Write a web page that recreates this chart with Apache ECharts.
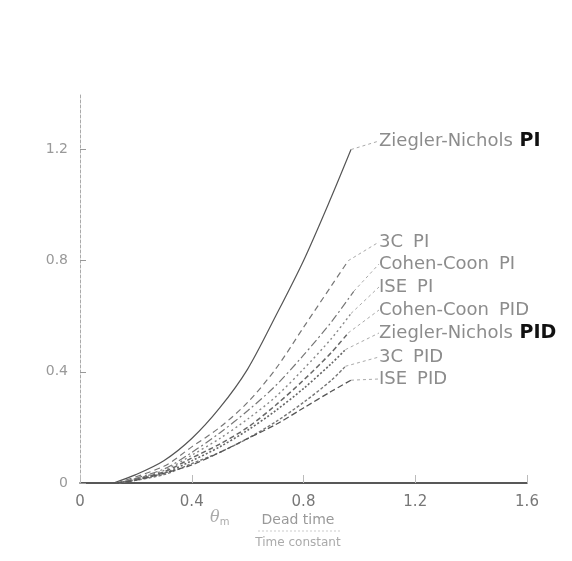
<!DOCTYPE html>
<html>
<head>
<meta charset="utf-8">
<script src="https://cdn.jsdelivr.net/npm/echarts@6/dist/echarts.min.js"></script>
<style>
  html, body { margin: 0; padding: 0; background: #fff; }
  #chart { width: 572px; height: 561px; }
</style>
</head>
<body>
<div id="chart"></div>
<script>
// Dead time / time constant ratio vs. controller gain for several tuning rules
const xTicks = [0, 0.4, 0.8, 1.2, 1.6];
const yTicks = [0, 0.4, 0.8, 1.2];

const znPI   = [[0.12, 0], [0.2, 0.03], [0.3, 0.08], [0.4, 0.16], [0.5, 0.27], [0.6, 0.41], [0.7, 0.6], [0.8, 0.8], [0.9, 1.03], [0.97, 1.2]];
const c3PI   = [[0.13, 0], [0.3, 0.06], [0.4, 0.13], [0.5, 0.2], [0.6, 0.29], [0.7, 0.41], [0.8, 0.56], [0.9, 0.71], [0.96, 0.8]];
const ccPI   = [[0.14, 0], [0.3, 0.05], [0.4, 0.11], [0.5, 0.18], [0.6, 0.26], [0.7, 0.35], [0.8, 0.46], [0.9, 0.58], [0.98, 0.69]];
const isePI  = [[0.14, 0], [0.3, 0.045], [0.4, 0.1], [0.5, 0.16], [0.6, 0.23], [0.7, 0.31], [0.8, 0.41], [0.9, 0.52], [0.97, 0.61]];
const ccPID  = [[0.14, 0], [0.3, 0.04], [0.4, 0.09], [0.5, 0.14], [0.6, 0.2], [0.7, 0.28], [0.8, 0.37], [0.9, 0.47], [0.96, 0.54]];
const znPID  = [[0.14, 0], [0.3, 0.035], [0.4, 0.08], [0.5, 0.13], [0.6, 0.19], [0.7, 0.26], [0.8, 0.34], [0.9, 0.43], [0.95, 0.48]];
const c3PID  = [[0.14, 0], [0.3, 0.03], [0.4, 0.07], [0.5, 0.11], [0.6, 0.16], [0.7, 0.22], [0.8, 0.29], [0.9, 0.37], [0.95, 0.42]];
const isePID = [[0.13, 0], [0.2, 0.01], [0.3, 0.035], [0.4, 0.065], [0.5, 0.11], [0.6, 0.16], [0.7, 0.21], [0.8, 0.27], [0.9, 0.33], [0.97, 0.37]];

const rules = [
  { name: 'Ziegler-Nichols', kind: 'PI',  data: znPI,   labelY: 141, strong: true,  color: '#555', dash: 'solid',  width: 1.2 },
  { name: '3C',              kind: 'PI',  data: c3PI,   labelY: 242, strong: false, color: '#777', dash: [6, 4],   width: 1.2 },
  { name: 'Cohen-Coon',      kind: 'PI',  data: ccPI,   labelY: 264, strong: false, color: '#777', dash: [8, 3, 2, 3], width: 1.2 },
  { name: 'ISE',             kind: 'PI',  data: isePI,  labelY: 287, strong: false, color: '#888', dash: [2, 3],   width: 1.4 },
  { name: 'Cohen-Coon',      kind: 'PID', data: ccPID,  labelY: 310, strong: false, color: '#666', dash: [5, 3],   width: 1.5 },
  { name: 'Ziegler-Nichols', kind: 'PID', data: znPID,  labelY: 333, strong: true,  color: '#666', dash: [2, 2],   width: 1.6 },
  { name: '3C',              kind: 'PID', data: c3PID,  labelY: 357, strong: false, color: '#777', dash: [3, 2],   width: 1.4 },
  { name: 'ISE',             kind: 'PID', data: isePID, labelY: 379, strong: false, color: '#555', dash: [6, 3],   width: 1.3 }
];

const labelFont = 'DejaVu Sans';

const series = rules.map(r => {
  const last = r.data.length - 1;
  const pts = r.data.map((p, i) => {
    if (i !== last) return p;
    return {
      value: p,
      label: {
        show: true,
        position: 'right',
        formatter: '{n|' + r.name + '}' + (r.strong ? '  ' : '   ') + '{' + (r.strong ? 'b' : 'k') + '|' + r.kind + '}',
        rich: {
          n: { fontFamily: labelFont, fontSize: 18, color: '#8c8c8c' },
          k: { fontFamily: labelFont, fontSize: 18, color: '#8c8c8c' },
          b: { fontFamily: labelFont, fontSize: 19, fontWeight: 'bold', color: '#111' }
        }
      }
    };
  });
  return {
    type: 'line',
    name: r.name + ' ' + r.kind,
    data: pts,
    smooth: 0.3,
    symbol: 'circle',
    symbolSize: 0,
    showSymbol: true,
    showAllSymbol: true,
    silent: true,
    animation: false,
    itemStyle: { color: r.color },
    lineStyle: { color: r.color, width: r.width, type: r.dash },
    labelLayout: { x: 379, y: r.labelY, align: 'left', verticalAlign: 'middle', hideOverlap: false },
    labelLine: { show: true, lineStyle: { color: '#aaa', width: 1, type: [3, 3] } }
  };
});

const chart = echarts.init(document.getElementById('chart'), null, { renderer: 'canvas' });
chart.setOption({
  backgroundColor: '#ffffff',
  animation: false,
  grid: { left: 80, right: 45, top: 94, bottom: 78, containLabel: false },
  xAxis: {
    type: 'value',
    min: xTicks[0],
    max: xTicks[xTicks.length - 1],
    interval: 0.4,
    axisLine: { show: true, onZero: false, lineStyle: { color: '#222', width: 1.5 } },
    axisTick: { show: true, inside: true, length: 8, lineStyle: { color: '#bbb' } },
    axisLabel: {
      margin: 12,
      fontFamily: labelFont,
      fontSize: 15,
      color: '#777',
      formatter: v => (xTicks.indexOf(+v.toFixed(1)) >= 0 ? (v === 0 ? '0' : v.toFixed(1)) : '')
    },
    splitLine: { show: false }
  },
  yAxis: {
    type: 'value',
    min: 0,
    max: 1.4,
    interval: 0.4,
    axisLine: { show: true, lineStyle: { color: '#aaa', width: 1, type: [3, 2] } },
    axisTick: { show: true, inside: true, length: 6, lineStyle: { color: '#999' } },
    axisLabel: {
      margin: 12,
      fontFamily: labelFont,
      fontSize: 14,
      color: '#999',
      showMaxLabel: false,
      formatter: v => (yTicks.indexOf(+v.toFixed(1)) >= 0 ? (v === 0 ? '0' : v.toFixed(1)) : '')
    },
    splitLine: { show: false }
  },
  series: series,
  graphic: [
    {
      type: 'text', left: 210, top: 510,
      style: {
        text: '{t|θ}{s|m}',
        rich: {
          t: { fontFamily: 'DejaVu Serif', fontStyle: 'italic', fontSize: 16, fill: '#aaa' },
          s: { fontFamily: labelFont, fontSize: 10, fill: '#aaa', padding: [8, 0, 0, 0] }
        }
      }
    },
    {
      type: 'text', x: 298, y: 520,
      style: { text: 'Dead time', fontFamily: labelFont, fontSize: 14, fill: '#999', align: 'center', verticalAlign: 'middle' }
    },
    {
      type: 'line', shape: { x1: 258, y1: 531, x2: 340, y2: 531 },
      style: { stroke: '#ccc', lineWidth: 1, lineDash: [2, 2] }
    },
    {
      type: 'text', x: 298, y: 543,
      style: { text: 'Time constant', fontFamily: labelFont, fontSize: 12, fill: '#aaa', align: 'center', verticalAlign: 'middle' }
    }
  ]
});
</script>
</body>
</html>
